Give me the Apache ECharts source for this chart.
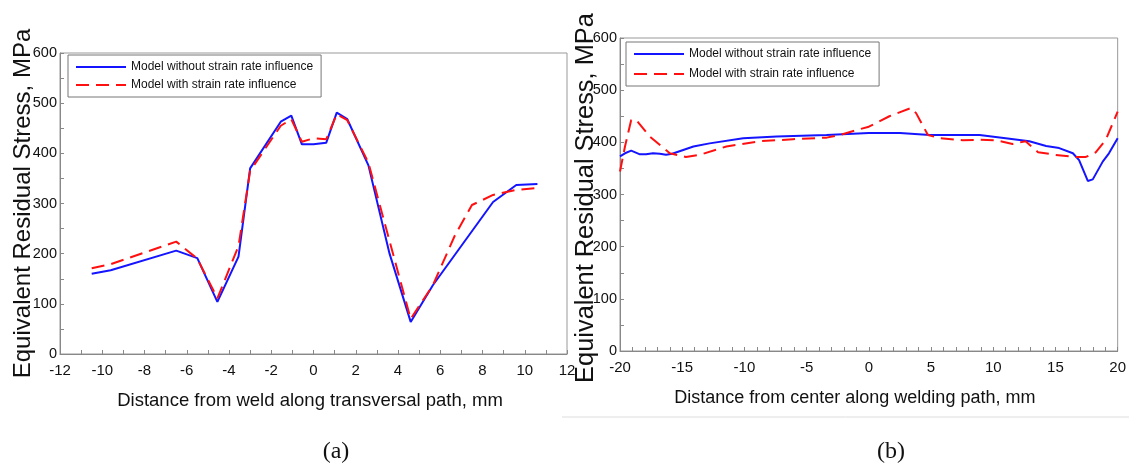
<!DOCTYPE html>
<html>
<head>
<meta charset="utf-8">
<script src="https://cdn.jsdelivr.net/npm/echarts@6/dist/echarts.min.js"></script>
<style>
  html, body { margin: 0; padding: 0; background: #fff; }
  #chart { width: 1129px; height: 467px; }
</style>
</head>
<body>
<div id="chart"></div>
<script>
// (a) transversal path
const transXWithout = [-10.5, -9.6, -6.5, -5.5, -4.55, -3.55, -3.0, -1.55, -1.05, -0.55, 0, 0.6, 1.1, 1.6, 2.6, 3.6, 4.6, 5.65, 8.5, 9.6, 10.6];
const transWithout = [160, 167, 206, 191, 104, 194, 370, 463, 475, 418, 418, 421, 481, 468, 376, 200, 64, 137, 303, 337, 339];
const transXWith = [-10.5, -9.6, -6.5, -5.5, -4.55, -3.55, -3.0, -1.55, -1.05, -0.55, 0, 0.6, 1.1, 1.6, 2.6, 3.6, 4.6, 5.65, 6.7, 7.5, 8.5, 9.6, 10.6];
const transWith = [171, 179, 224, 190, 111, 215, 365, 455, 468, 423, 430, 428, 478, 466, 381, 225, 70, 137, 237, 297, 317, 327, 331];

// (b) welding path
const weldXWithout = [-20, -19.6, -19.1, -18.4, -17.9, -17.35, -16.8, -16.3, -15.8, -14.1, -12.8, -10.1, -7.4, -3.4, 0, 2.5, 4.9, 8.9, 11, 12.9, 14.25, 15.3, 16.4, 16.9, 17.6, 18, 18.8, 19.3, 20];
const weldWithout = [373, 379, 384, 377, 377, 379, 378, 376, 378, 392, 398, 408, 411, 414, 418, 418, 414, 414, 408, 402, 393, 389, 379, 366, 326, 329, 363, 379, 408];
const weldXWith = [-20, -19.6, -19.1, -18.7, -17.6, -16, -14.7, -13.6, -11.45, -8.8, -6.1, -3.4, -2.35, -0.75, 0, 1.65, 3.4, 3.8, 4.75, 5.7, 7.55, 8.9, 10.2, 11.55, 12.6, 13.6, 15, 16.65, 17.45, 18.25, 19.05, 20];
const weldWith = [344, 392, 443, 443, 411, 379, 372, 376, 392, 402, 406, 409, 414, 425, 430, 450, 466, 456, 414, 408, 404, 405, 404, 397, 402, 381, 376, 372, 372, 381, 405, 459];

const nameWithout = 'Model without strain rate influence';
const nameWith = 'Model with strain rate influence';
const yTitle = 'Equivalent Residual Stress, MPa';
const xTitleA = 'Distance from weld along transversal path, mm';
const xTitleB = 'Distance from center along welding path, mm';

const pairs = (xs, ys) => xs.map((x, i) => [x, ys[i]]);

const sans = "'Liberation Sans', Arial, sans-serif";
const serif = "'Liberation Serif', 'Times New Roman', serif";

function xAxisOf(gridIndex, min, max, interval, minorSplit, title, gap, size, pad) {
  return {
    type: 'value', gridIndex, min, max, interval,
    axisLine: { onZero: false, lineStyle: { color: '#888', width: 1 } },
    axisTick: { inside: true, length: 4, lineStyle: { color: '#888' } },
    minorTick: { show: true, splitNumber: minorSplit, length: 4, lineStyle: { color: '#888' } },
    splitLine: { show: false },
    axisLabel: { color: '#111', fontSize: 15, fontFamily: sans, margin: 9 },
    name: title, nameLocation: 'middle', nameGap: gap, nameMoveOverlap: false,
    nameTextStyle: { color: '#111', fontSize: size, fontFamily: sans, padding: pad }
  };
}

function yAxisOf(gridIndex, title, gap, size, pad) {
  return {
    type: 'value', gridIndex, min: 0, max: 600, interval: 100,
    axisLine: { show: true, onZero: false, lineStyle: { color: '#888', width: 1 } },
    axisTick: { show: true, inside: true, length: 4, lineStyle: { color: '#888' } },
    minorTick: { show: true, splitNumber: 2, length: 4, lineStyle: { color: '#888' } },
    splitLine: { show: false },
    axisLabel: { color: '#111', fontSize: 14.5, fontFamily: sans, margin: 3 },
    name: title, nameLocation: 'middle', nameGap: gap, nameMoveOverlap: false,
    nameTextStyle: { color: '#111', fontSize: size, fontFamily: sans, padding: pad }
  };
}

function lineOf(name, data, idx, dashed) {
  const color = dashed ? '#ff1010' : '#1414ff';
  return {
    name, type: 'line', xAxisIndex: idx, yAxisIndex: idx,
    data, showSymbol: false, symbol: 'none',
    lineStyle: dashed ? { color, width: 2, type: [13, 7] } : { color, width: 2 },
    itemStyle: { color }
  };
}

function legendOf(left, top, gap) {
  return {
    orient: 'vertical', left, top,
    data: [nameWithout, nameWith],
    itemWidth: 50, itemHeight: 14, itemGap: gap,
    padding: [6, 8, 6, 7],
    borderColor: '#777', borderWidth: 1, borderRadius: 0,
    itemStyle: { opacity: 0 },
    textStyle: { color: '#111', fontSize: 12, fontFamily: sans },
    selectedMode: false
  };
}

const chart = echarts.init(document.getElementById('chart'), null, { renderer: 'canvas' });

chart.setOption({
  animation: false,
  backgroundColor: '#fff',
  grid: [
    { left: 60, top: 53, width: 507, height: 301, show: true, borderColor: '#999', borderWidth: 1 },
    { left: 620, top: 38, width: 498, height: 313, show: true, borderColor: '#999', borderWidth: 1 }
  ],
  xAxis: [
    xAxisOf(0, -12, 12, 2, 2, xTitleA, 37, 18.5, [0, 7, 0, 0]),
    xAxisOf(1, -20, 20, 5, 5, xTitleB, 38, 18, [0, 28, 0, 0])
  ],
  yAxis: [
    yAxisOf(0, yTitle, 25, 24, [0, 0, 0, 0]),
    yAxisOf(1, yTitle, 22, 25.4, [0, 7, 0, 0])
  ],
  legend: [
    legendOf(68, 55, 6),
    legendOf(626, 42, 8)
  ],
  series: [
    lineOf(nameWithout, pairs(transXWithout, transWithout), 0, false),
    lineOf(nameWith, pairs(transXWith, transWith), 0, true),
    lineOf(nameWithout, pairs(weldXWithout, weldWithout), 1, false),
    lineOf(nameWith, pairs(weldXWith, weldWith), 1, true)
  ],
  graphic: [
    { type: 'line', shape: { x1: 562, y1: 417, x2: 1129, y2: 417 }, style: { stroke: '#ddd', lineWidth: 1 } },
    { type: 'text', x: 336, y: 452, style: { text: '(a)', font: '24px ' + serif, fill: '#111', align: 'center', verticalAlign: 'middle' } },
    { type: 'text', x: 891, y: 452, style: { text: '(b)', font: '24px ' + serif, fill: '#111', align: 'center', verticalAlign: 'middle' } }
  ]
});
</script>
</body>
</html>
